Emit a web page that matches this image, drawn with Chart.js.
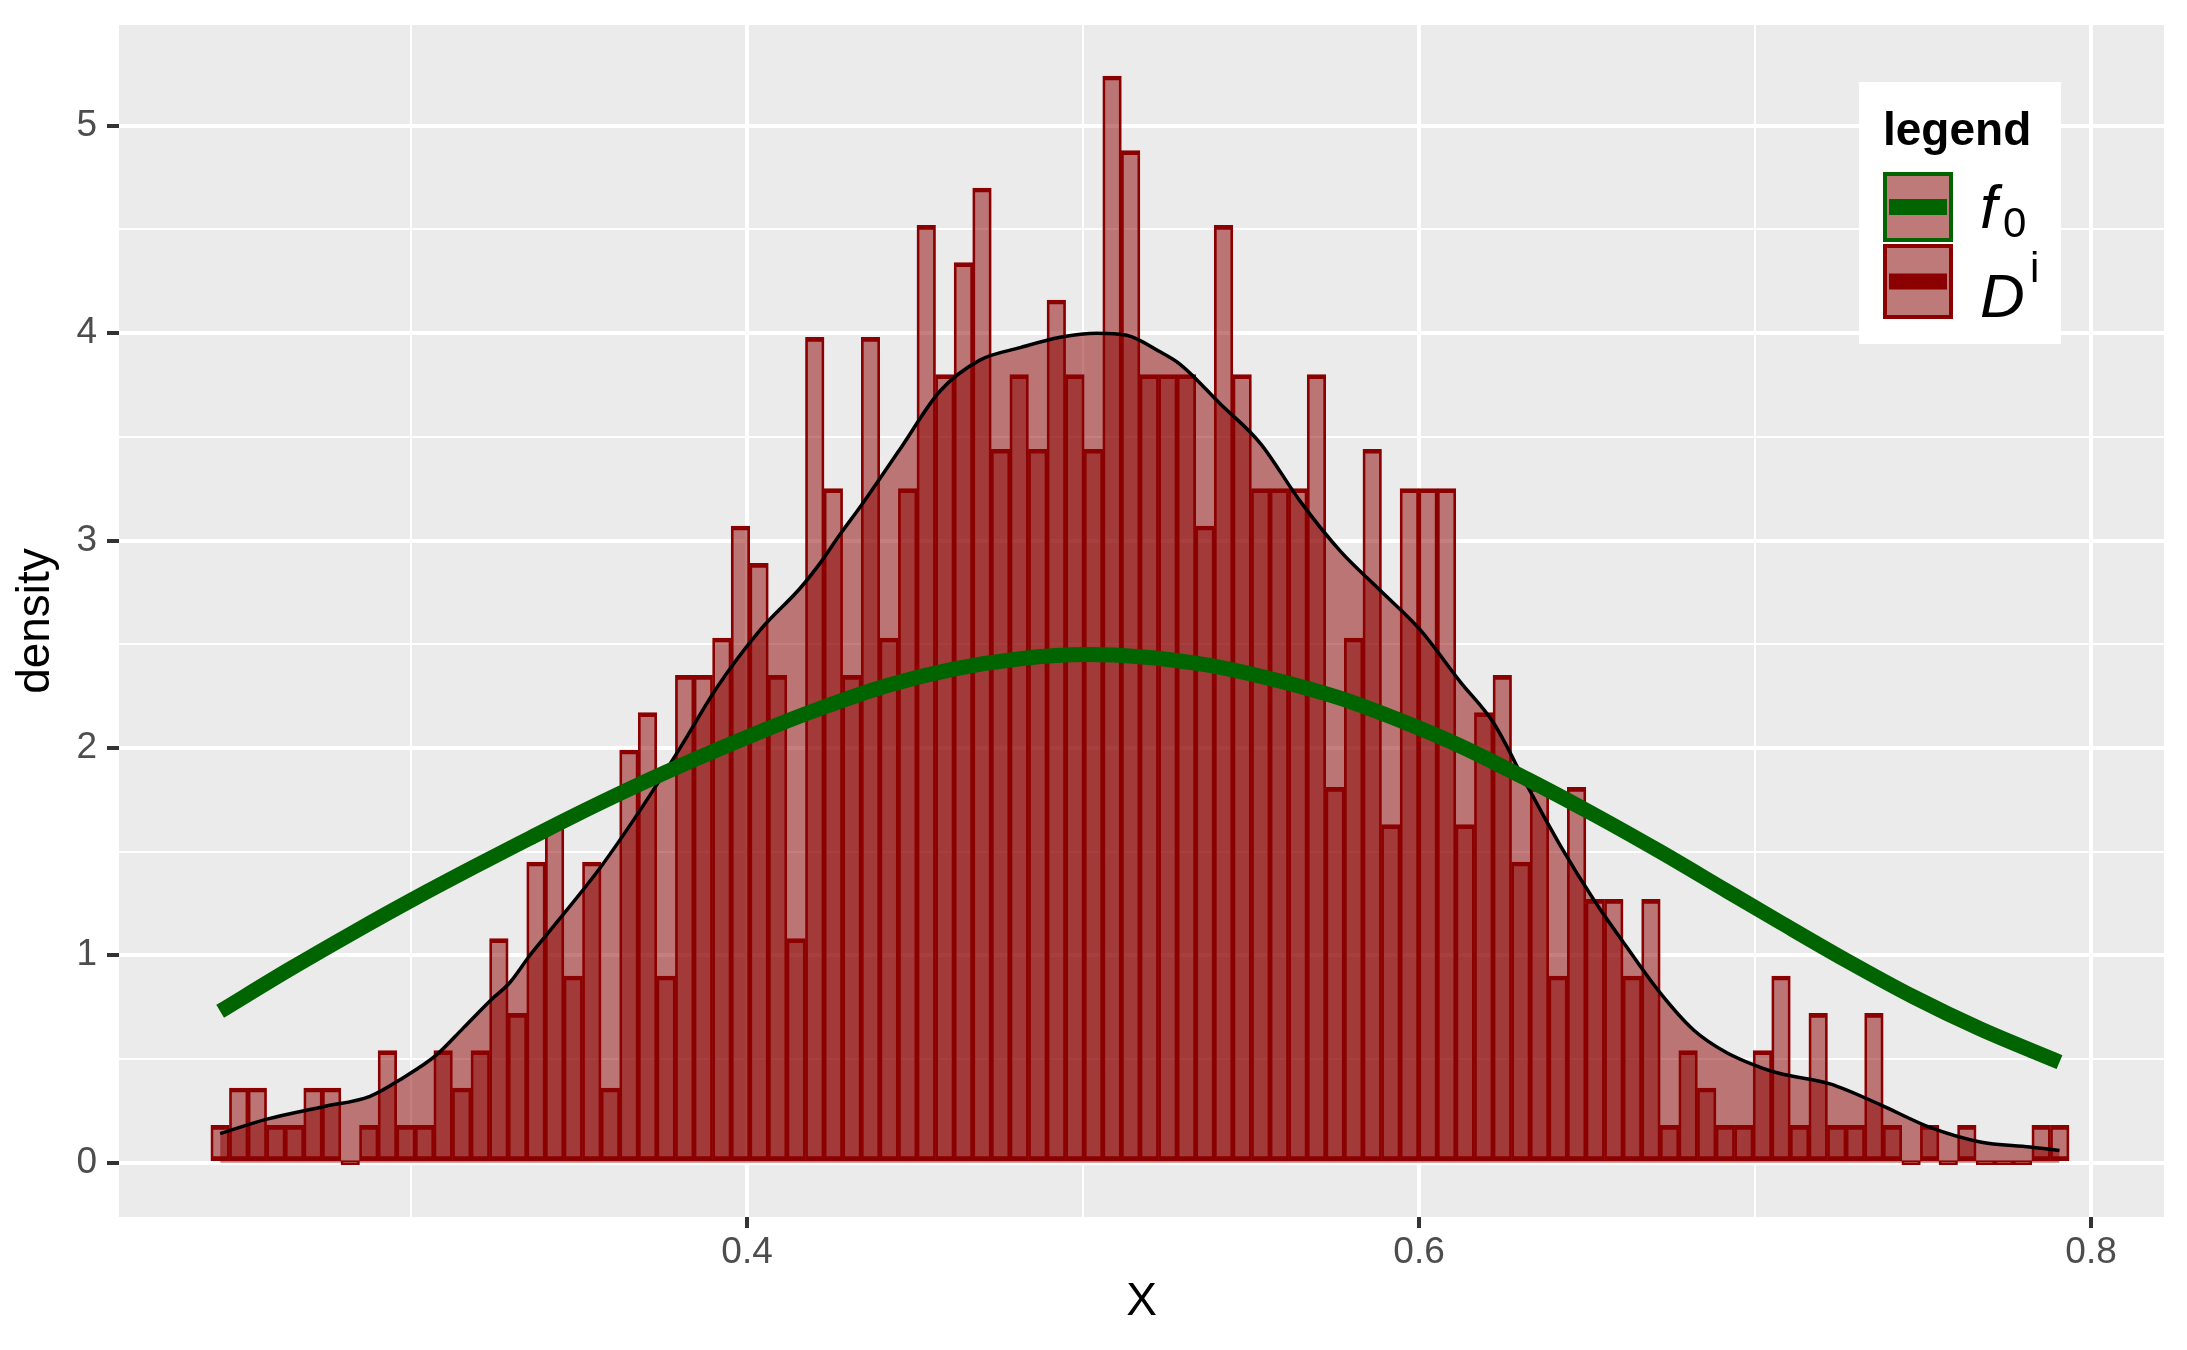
<!DOCTYPE html>
<html>
<head>
<meta charset="utf-8">
<script src="https://cdn.jsdelivr.net/npm/chart.js@4.4.1/dist/chart.umd.min.js"></script>
<style>
  html, body { margin: 0; padding: 0; background: #ffffff; }
  canvas { display: block; }
</style>
</head>
<body>
<canvas id="chart" width="2187" height="1350"></canvas>
<script>
// histogram: 100 bins, centre of the first bin and bin width
const binStart = 0.2432
const binWidth = 0.00553
const binDensity = [
  0.18, 0.36, 0.36, 0.18, 0.18, 0.36, 0.36, 0, 0.18, 0.54,
  0.18, 0.18, 0.54, 0.36, 0.54, 1.08, 0.72, 1.45, 1.63, 0.90,
  1.45, 0.36, 1.99, 2.17, 0.90, 2.35, 2.35, 2.53, 3.07, 2.89,
  2.35, 1.08, 3.98, 3.25, 2.35, 3.98, 2.53, 3.25, 4.52, 3.80,
  4.34, 4.70, 3.44, 3.80, 3.44, 4.16, 3.80, 3.44, 5.24, 4.88,
  3.80, 3.80, 3.80, 3.07, 4.52, 3.80, 3.25, 3.25, 3.25, 3.80,
  1.81, 2.53, 3.44, 1.63, 3.25, 3.25, 3.25, 1.63, 2.17, 2.35,
  1.45, 1.81, 0.90, 1.81, 1.27, 1.27, 0.90, 1.27, 0.18, 0.54,
  0.36, 0.18, 0.18, 0.54, 0.90, 0.18, 0.72, 0.18, 0.18, 0.72,
  0.18, 0, 0.18, 0, 0.18, 0, 0, 0, 0.18, 0.18
]

// kernel density of the sample (black curve)
const densityX = [0.2432, 0.2571, 0.2739, 0.2878, 0.2977, 0.3076, 0.3156, 0.3235, 0.3295, 0.3354,
  0.3404, 0.3562, 0.3682, 0.3801, 0.3910, 0.4040, 0.4158, 0.4217, 0.4277, 0.4336,
  0.4455, 0.4574, 0.4693, 0.4813, 0.4932, 0.5041, 0.5130, 0.5229, 0.5289, 0.5408,
  0.5527, 0.5646, 0.5765, 0.5884, 0.6003, 0.6122, 0.6222, 0.6321, 0.6420, 0.6519,
  0.6618, 0.6717, 0.6817, 0.6916, 0.7015, 0.7074, 0.7223, 0.7372, 0.7521, 0.7670,
  0.7818, 0.7906]
const densityY = [0.14, 0.21, 0.27, 0.32, 0.41, 0.52, 0.65, 0.78, 0.87, 1.00,
  1.10, 1.42, 1.70, 2.00, 2.29, 2.57, 2.77, 2.89, 3.03, 3.16,
  3.44, 3.72, 3.87, 3.93, 3.98, 4.00, 3.99, 3.91, 3.85, 3.66,
  3.47, 3.19, 2.95, 2.76, 2.57, 2.32, 2.12, 1.82, 1.53, 1.27,
  1.04, 0.82, 0.64, 0.53, 0.46, 0.43, 0.38, 0.28, 0.17, 0.10,
  0.076, 0.059]

// true density f0 (green curve)
const f0X = [0.2432, 0.2641, 0.2839, 0.3000, 0.3186, 0.3354, 0.3463, 0.3661, 0.3860, 0.4058,
  0.4217, 0.4415, 0.4614, 0.4813, 0.5011, 0.5170, 0.5368, 0.5567, 0.5765, 0.5963,
  0.6122, 0.6321, 0.6519, 0.6717, 0.6916, 0.7074, 0.7272, 0.7471, 0.7670, 0.7906]
const f0Y = [0.73, 0.935, 1.12, 1.265, 1.425, 1.565, 1.655, 1.81, 1.955, 2.09,
  2.19, 2.30, 2.38, 2.43, 2.45, 2.44, 2.40, 2.33, 2.24, 2.12,
  2.01, 1.85, 1.68, 1.50, 1.31, 1.16, 0.975, 0.80, 0.645, 0.485]

const xMajor = [0.4, 0.6, 0.8]
const xMinor = [0.3, 0.5, 0.7]
const yMajor = [0, 1, 2, 3, 4, 5]
const yMinor = [0.5, 1.5, 2.5, 3.5, 4.5]

const legendTitle = 'legend'
const legendBase = ['f', 'D']
const legendScript = ['0', 'i']

const DARKRED = '#8B0000'
const GREEN = '#006400'
const FILL = 'rgba(139,0,0,0.5)'

Chart.defaults.font.family = "'Liberation Sans', Arial, sans-serif"

const panelBg = {
  id: 'panelBg',
  beforeDraw (chart) {
    const { ctx, chartArea: a } = chart
    ctx.save()
    ctx.fillStyle = '#EBEBEB'
    ctx.fillRect(a.left, a.top, a.right - a.left, a.bottom - a.top)
    ctx.restore()
  }
}

// ggplot style legend box, drawn on top
const ggLegend = {
  id: 'ggLegend',
  afterDraw (chart) {
    const ctx = chart.ctx
    ctx.save()
    ctx.fillStyle = '#ffffff'
    ctx.fillRect(1859, 82, 202, 262)

    ctx.fillStyle = '#000000'
    ctx.textBaseline = 'alphabetic'
    ctx.font = "bold 46px 'Liberation Sans'"
    ctx.fillText(legendTitle, 1883, 145)

    const keys = [
      { y: 172, h: 70, col: GREEN, base: 228, sub: 237 },
      { y: 244, h: 75, col: DARKRED, base: 317, sub: 282 }
    ]
    keys.forEach((k, i) => {
      ctx.fillStyle = k.col
      ctx.fillRect(1883, k.y, 70, k.h)
      ctx.fillStyle = '#be7979'
      ctx.fillRect(1887, k.y + 4, 62, k.h - 8)
      ctx.fillStyle = k.col
      ctx.fillRect(1889, k.y + k.h / 2 - 8, 58, 16)

      ctx.fillStyle = '#000000'
      ctx.font = "italic 62px 'Liberation Sans'"
      ctx.fillText(legendBase[i], 1980, k.base)
      ctx.font = "42px 'Liberation Sans'"
      ctx.fillText(legendScript[i], i === 0 ? 2003 : 2030, k.sub)
    })
    ctx.restore()
  }
}

const isIn = (arr, v) => arr.some(a => Math.abs(a - v) < 1e-9)

new Chart(document.getElementById('chart'), {
  type: 'bar',
  data: {
    datasets: [
      {
        type: 'line',
        label: 'f0',
        data: f0X.map((x, i) => ({ x, y: f0Y[i] })),
        borderColor: GREEN,
        borderWidth: 15,
        pointRadius: 0,
        fill: false,
        cubicInterpolationMode: 'monotone',
        order: 0
      },
      {
        type: 'line',
        label: 'density',
        data: densityX.map((x, i) => ({ x, y: densityY[i] })),
        borderColor: '#000000',
        borderWidth: 3.5,
        backgroundColor: FILL,
        fill: 'origin',
        pointRadius: 0,
        cubicInterpolationMode: 'monotone',
        order: 1
      },
      {
        type: 'bar',
        label: 'D',
        data: binDensity.map((y, i) => ({ x: binStart + i * binWidth, y })),
        backgroundColor: FILL,
        borderColor: DARKRED,
        borderWidth: { top: 4, bottom: 4, left: 2.1, right: 2.1 },
        borderSkipped: false,
        barPercentage: 1,
        categoryPercentage: 1,
        minBarLength: 4,
        order: 2
      }
    ]
  },
  options: {
    responsive: false,
    animation: false,
    devicePixelRatio: 1,
    layout: { padding: { top: 25, right: 23, bottom: 0, left: 0 } },
    plugins: { legend: { display: false }, tooltip: { enabled: false } },
    scales: {
      x: {
        type: 'linear',
        min: 0.2131,
        max: 0.8217,
        offset: false,
        afterBuildTicks: s => { s.ticks = [...xMinor, ...xMajor].sort((a, b) => a - b).map(v => ({ value: v })) },
        afterFit: s => { s.height = 133; s.paddingLeft = 0; s.paddingRight = 0 },
        ticks: {
          callback: v => isIn(xMajor, v) ? v.toFixed(1) : '',
          color: '#4D4D4D',
          font: { size: 37 },
          padding: 3,
          autoSkip: false,
          maxRotation: 0,
          minRotation: 0
        },
        grid: {
          offset: false,
          color: '#ffffff',
          lineWidth: c => (c.tick && isIn(xMajor, c.tick.value)) ? 4 : 2,
          tickLength: 11,
          tickWidth: 4,
          tickColor: c => (c.tick && isIn(xMajor, c.tick.value)) ? '#333333' : 'rgba(0,0,0,0)'
        },
        border: { display: false },
        title: { display: true, text: 'X', color: '#000000', font: { size: 46 }, padding: { top: 0, bottom: 20 } }
      },
      y: {
        min: -0.262,
        max: 5.486,
        afterBuildTicks: s => { s.ticks = [...yMinor, ...yMajor].sort((a, b) => a - b).map(v => ({ value: v })) },
        afterFit: s => { s.width = 119; s.paddingTop = 0; s.paddingBottom = 0 },
        ticks: {
          callback: v => isIn(yMajor, v) ? String(v) : '',
          color: '#4D4D4D',
          font: { size: 37 },
          padding: 10,
          autoSkip: false
        },
        grid: {
          color: '#ffffff',
          lineWidth: c => (c.tick && isIn(yMajor, c.tick.value)) ? 4 : 2,
          tickLength: 12,
          tickWidth: 4,
          tickColor: c => (c.tick && isIn(yMajor, c.tick.value)) ? '#333333' : 'rgba(0,0,0,0)'
        },
        border: { display: false },
        title: { display: true, text: 'density', color: '#000000', font: { size: 46 }, padding: { top: 9, bottom: 0 } }
      }
    }
  },
  plugins: [panelBg, ggLegend]
})
</script>
</body>
</html>
